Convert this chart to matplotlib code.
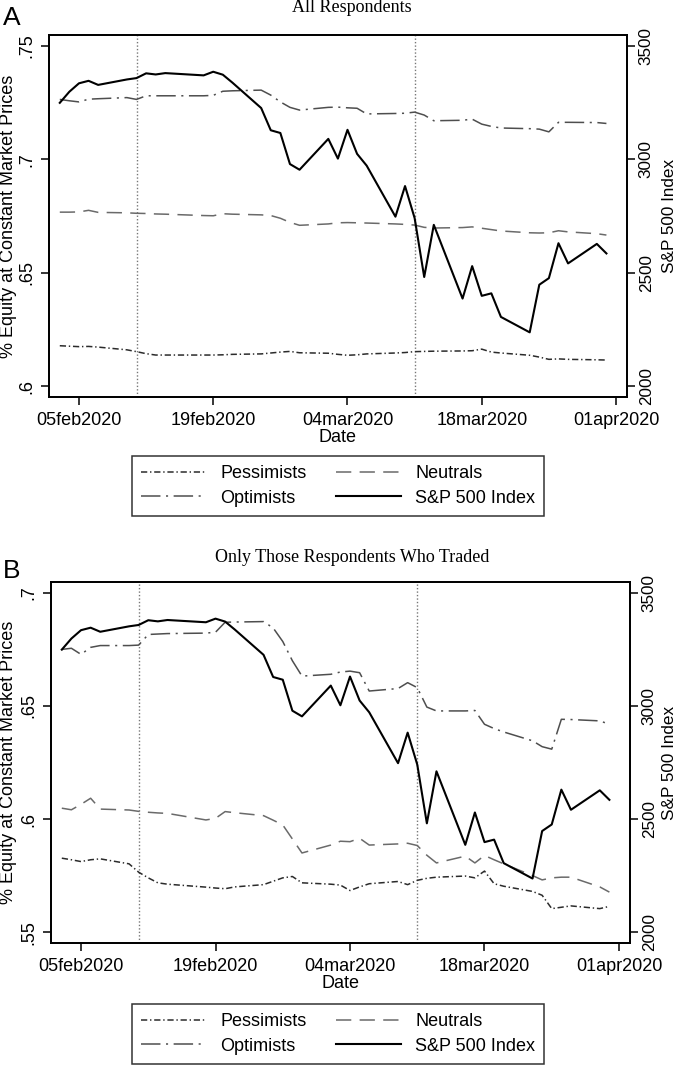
import matplotlib
matplotlib.use("Agg")
import pandas as pd
import matplotlib.pyplot as plt
import matplotlib.dates as mdates
from matplotlib.lines import Line2D

plt.rcParams["font.family"] = ["Liberation Sans", "DejaVu Sans"]
plt.rcParams["lines.scale_dashes"] = False

DATES = pd.to_datetime([
    "2020-02-03", "2020-02-04", "2020-02-05", "2020-02-06", "2020-02-07",
    "2020-02-10", "2020-02-11", "2020-02-12", "2020-02-13", "2020-02-14",
    "2020-02-18", "2020-02-19", "2020-02-20", "2020-02-21", "2020-02-24",
    "2020-02-25", "2020-02-26", "2020-02-27", "2020-02-28", "2020-03-02",
    "2020-03-03", "2020-03-04", "2020-03-05", "2020-03-06", "2020-03-09",
    "2020-03-10", "2020-03-11", "2020-03-12", "2020-03-13", "2020-03-16",
    "2020-03-17", "2020-03-18", "2020-03-19", "2020-03-20", "2020-03-23",
    "2020-03-24", "2020-03-25", "2020-03-26", "2020-03-27", "2020-03-30",
    "2020-03-31",
])

SP500 = [3249, 3298, 3335, 3346, 3328, 3352, 3358, 3379, 3374, 3380,
         3370, 3386, 3373, 3338, 3226, 3128, 3116, 2979, 2954, 3090,
         3003, 3130, 3024, 2972, 2747, 2882, 2741, 2481, 2711, 2386,
         2529, 2398, 2409, 2305, 2237, 2447, 2476, 2630, 2541, 2627,
         2585]

# panel A: all respondents
A_PESS = [.6178, .6176, .6174, .6175, .6172, .6160, .6152, .6143, .6137, .6137,
          .6137, .6137, .6138, .6140, .6142, .6146, .6150, .6153, .6147, .6145,
          .6140, .6136, .6138, .6142, .6146, .6148, .6152, .6153, .6154, .6155,
          .6156, .6163, .6150, .6146, .6136, .6128, .6118, .6120, .6118, .6116,
          .6115]
A_NEUT = [.6767, .6767, .6768, .6775, .6766, .6764, .6762, .6761, .6759, .6758,
          .6752, .6751, .6760, .6758, .6755, .6752, .6740, .6722, .6709, .6715,
          .6720, .6721, .6720, .6719, .6715, .6713, .6710, .6700, .6697, .6699,
          .6702, .6696, .6690, .6684, .6676, .6675, .6676, .6685, .6680, .6672,
          .6666]
A_OPT = [.7264, .7258, .7253, .7265, .7267, .7272, .7264, .7280, .7280, .7280,
         .7280, .7282, .7300, .7302, .7305, .7283, .7253, .7229, .7217, .7229,
         .7230, .7227, .7225, .7200, .7202, .7203, .7208, .7195, .7170, .7172,
         .7177, .7155, .7145, .7138, .7135, .7133, .7121, .7163, .7163, .7162,
         .7158]

# panel B: only respondents who traded
B_PESS = [.5827, .5820, .5812, .5820, .5824, .5802, .5765, .5740, .5718, .5712,
          .5699, .5695, .5692, .5700, .5710, .5725, .5740, .5746, .5718, .5712,
          .5708, .5684, .5700, .5714, .5724, .5710, .5729, .5738, .5743, .5748,
          .5740, .5770, .5714, .5703, .5680, .5663, .5604, .5610, .5616, .5604,
          .5614]
B_NEUT = [.6048, .6041, .6065, .6092, .6044, .6040, .6034, .6030, .6027, .6025,
          .5996, .6003, .6033, .6028, .6015, .5995, .5974, .5912, .5850, .5885,
          .5902, .5900, .5915, .5885, .5890, .5893, .5883, .5840, .5806, .5836,
          .5806, .5839, .5820, .5802, .5750, .5731, .5740, .5743, .5743, .5700,
          .5677]
B_OPT = [.6750, .6755, .6728, .6759, .6767, .6767, .6769, .6816, .6818, .6820,
         .6822, .6826, .6870, .6871, .6873, .6845, .6785, .6700, .6632, .6640,
         .6650, .6654, .6647, .6566, .6577, .6603, .6581, .6495, .6478, .6478,
         .6480, .6419, .6400, .6385, .6346, .6320, .6309, .6441, .6440, .6434,
         .6419]

TICK_DATES = pd.to_datetime(["2020-02-05", "2020-02-19", "2020-03-04",
                             "2020-03-18", "2020-04-01"])
EVENTS = pd.to_datetime(["2020-02-11", "2020-03-11"])

STYLE = {
    "Pessimists": dict(color="#2b2b2b", lw=1.1, dashes=(4.5, 2, 1, 2)),
    "Neutrals": dict(color="#6a6a6a", lw=1.1, dashes=(11, 6)),
    "Optimists": dict(color="#4e4e4e", lw=1.1, dashes=(14, 4, 1.5, 4)),
    "S&P 500 Index": dict(color="black", lw=1.5, ls="-"),
}

W, H = 677, 1065
FS = 13
FS_R = 12.3


def stata_date(x, pos=None):
    d = mdates.num2date(x)
    return f"{d.day:02d}{d.strftime('%b').lower()}{d.year}"


def panel(fig, box, title, title_y, letter, letter_y, pess, neut, opt,
          yticks, ylabels, ylim, legend_y):
    l, t, r, b = box
    ax = fig.add_axes([l / W, 1 - b / H, (r - l) / W, (b - t) / H])
    ax2 = ax.twinx()

    for d in EVENTS:
        ax.axvline(d, color="#777777", lw=1.0, ls=(0, (1, 1.5)), zorder=1)
    ax.plot(DATES, pess, **STYLE["Pessimists"])
    ax.plot(DATES, neut, **STYLE["Neutrals"])
    ax.plot(DATES, opt, **STYLE["Optimists"])
    ax2.plot(DATES, SP500, **STYLE["S&P 500 Index"])

    ax.set_xlim(pd.Timestamp("2020-02-01 21:00"), pd.Timestamp("2020-04-02 03:30"))
    ax.set_ylim(*ylim)
    ax2.set_ylim(1952, 3548)
    ax.set_yticks(yticks, ylabels)
    ax2.set_yticks([2000, 2500, 3000, 3500])
    ax.set_xticks(TICK_DATES)
    ax.xaxis.set_major_formatter(plt.FuncFormatter(stata_date))

    ax.tick_params(axis="x", length=6, width=1.1, pad=5, labelsize=FS)
    ax.tick_params(axis="y", length=6, width=1.1, pad=4, labelsize=FS, labelrotation=90)
    ax2.tick_params(axis="y", length=5.5, width=1.1, pad=3, labelsize=FS_R, labelrotation=90)
    for lab in ax.get_yticklabels() + ax2.get_yticklabels():
        lab.set_verticalalignment("center")
    for a in (ax, ax2):
        for s in a.spines.values():
            s.set_linewidth(1.3)

    ax.set_xlabel("Date", fontsize=FS, labelpad=0)
    ax.set_ylabel("% Equity at Constant Market Prices", fontsize=FS)
    ax.yaxis.set_label_coords((17 - l) / (r - l), 0.5)
    ax2.set_ylabel("S&P 500 Index", fontsize=FS_R)
    ax2.yaxis.set_label_coords((662 - l) / (r - l), 0.5)

    fig.text(352 / W, 1 - title_y / H, title, family="Liberation Serif",
             fontsize=13, ha="center", va="center")
    fig.text(3 / W, 1 - letter_y / H, letter, fontsize=19, ha="left", va="center")

    order = ["Pessimists", "Optimists", "Neutrals", "S&P 500 Index"]
    handles = [Line2D([], [], **STYLE[k]) for k in order]
    leg = fig.legend(handles, order, loc="center", ncol=2,
                     bbox_to_anchor=(338 / W, 1 - legend_y / H),
                     fontsize=FS, frameon=True, fancybox=False,
                     edgecolor="black", handlelength=3.6, handletextpad=0.8,
                     columnspacing=1.6, labelspacing=0.4, borderpad=0.5)
    leg.get_frame().set_linewidth(1.1)
    return ax


fig = plt.figure(figsize=(W / 100, H / 100), dpi=100)

panel(fig, (49, 35, 627, 397), "All Respondents", 8, "A", 18,
      A_PESS, A_NEUT, A_OPT,
      [.6, .65, .7, .75], [".6", ".65", ".7", ".75"], (0.5952, 0.7548), 486)

panel(fig, (51, 582, 630, 943), "Only Those Respondents Who Traded", 557, "B", 571,
      B_PESS, B_NEUT, B_OPT,
      [.55, .6, .65, .7], [".55", ".6", ".65", ".7"], (0.5452, 0.7048), 1034)

fig.savefig("out.png", dpi=100)
